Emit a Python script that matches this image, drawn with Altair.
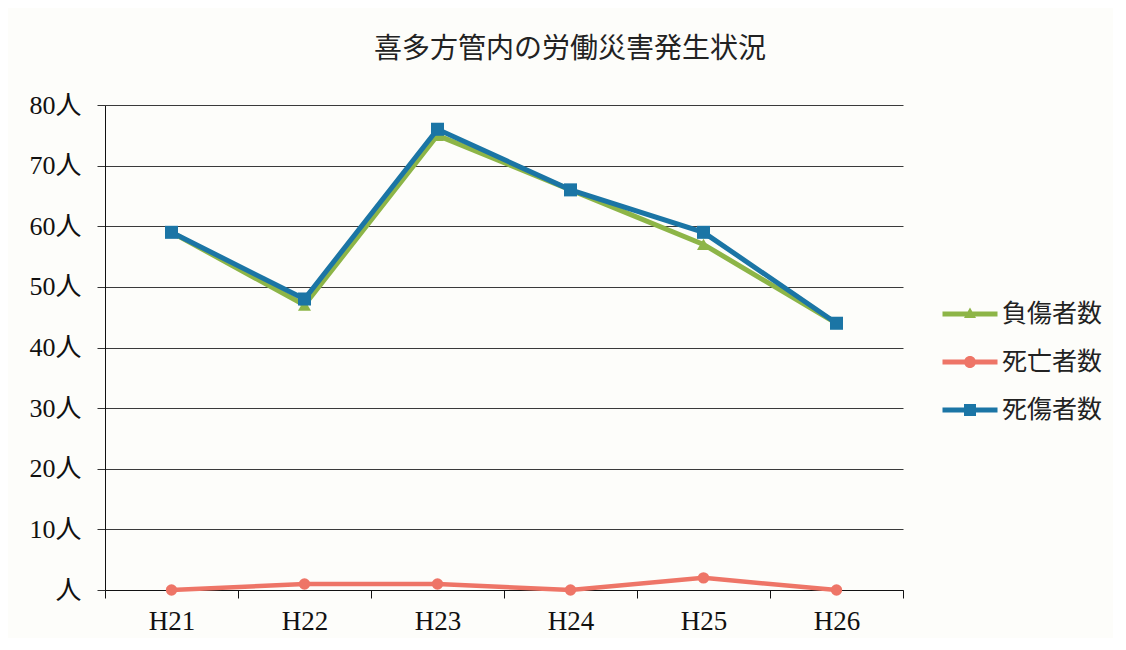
import altair as alt
import pandas as pd

years = ["H21", "H22", "H23", "H24", "H25", "H26"]
injured = [59, 47, 75, 66, 57, 44]      # 負傷者数
deaths = [0, 1, 1, 0, 2, 0]             # 死亡者数
casualties = [59, 48, 76, 66, 59, 44]   # 死傷者数

series = ["負傷者数", "死亡者数", "死傷者数"]
colors = ["#8db547", "#ee7567", "#1b75a5"]
marker_shapes = ["triangle-up", "circle", "square"]
marker_sizes = [170, 130, 170]
line_widths = [5, 4.5, 5]

rows = []
for name, vals in zip(series, [injured, deaths, casualties]):
    for yr, v in zip(years, vals):
        rows.append({"year": yr, "series": name, "value": v})
df = pd.DataFrame(rows)

LINE = "M-1.375,-0.125H1.375V0.125H-1.375Z"
legend_paths = [
    LINE + "M0,-0.33L0.3,0.2L-0.3,0.2Z",
    LINE + "M0.3,0A0.3,0.3 0 1,1 -0.3,0A0.3,0.3 0 1,1 0.3,0Z",
    LINE + "M-0.3,-0.3H0.3V0.3H-0.3Z",
]

x_enc = alt.X(
    "year:N",
    bandPosition=0.5,
    scale=alt.Scale(type="band", domain=years, paddingInner=0, paddingOuter=0),
    axis=alt.Axis(
        title=None, labelAngle=0, tickBand="extent", grid=False, tickSize=8,
        labelPadding=10, labelFont="Liberation Serif", labelFontSize=27,
        labelColor="#111", domainColor="#111", tickColor="#111",
    ),
)
y_enc = alt.Y(
    "value:Q",
    scale=alt.Scale(domain=[0, 80], nice=False, zero=True),
    axis=alt.Axis(
        title=None, values=list(range(0, 81, 10)),
        labelExpr="datum.value == 0 ? '人' : datum.value + '人'",
        tickSize=8, tickColor="#333", gridColor="#3a3a3a", gridWidth=1,
        domainColor="#111", labelPadding=16,
        labelFont="Liberation Serif, Noto Sans CJK JP", labelFontSize=26,
        labelColor="#111",
    ),
)

base = alt.Chart(df)
layers = []
for name, col, shp, sz, lw in zip(series, colors, marker_shapes, marker_sizes, line_widths):
    sub = base.transform_filter(alt.datum.series == name)
    layers.append(sub.mark_line(color=col, strokeWidth=lw).encode(x=x_enc, y=y_enc))
    layers.append(
        sub.mark_point(color=col, shape=shp, size=sz, filled=True, opacity=1).encode(x=x_enc, y=y_enc)
    )

legend_props = dict(
    title=None, orient="none", legendX=845, legendY=189,
    symbolSize=1600, symbolOpacity=1, symbolStrokeWidth=0,
    labelFont="Noto Sans CJK JP", labelFontSize=25, labelColor="#222",
    labelOffset=12, rowPadding=15,
)
legend_layer = base.mark_point(filled=True, opacity=0).encode(
    x=x_enc,
    y=y_enc,
    color=alt.Color("series:N", scale=alt.Scale(domain=series, range=colors),
                    legend=alt.Legend(**legend_props)),
    shape=alt.Shape("series:N", scale=alt.Scale(domain=series, range=legend_paths),
                    legend=alt.Legend(**legend_props)),
)
layers.append(legend_layer)

chart = alt.layer(*layers).properties(
    width=798,
    height=485,
    padding={"left": 97, "top": 97, "right": 210, "bottom": 48},
    autosize=alt.AutoSizeParams(type="none"),
    background="#fdfdfa",
    title=alt.TitleParams(
        "喜多方管内の労働災害発生状況", font="Noto Sans CJK JP", fontSize=28,
        fontWeight="normal", color="#222", anchor="middle", dx=66, offset=28,
    ),
).configure_view(stroke=None)

chart.save("out.html", embed_options={"renderer": "svg", "actions": False})
